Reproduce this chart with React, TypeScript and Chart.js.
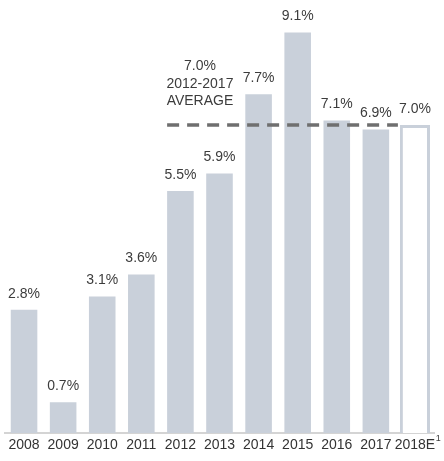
import React, { useEffect, useRef } from "react";
import { Chart, registerables } from "chart.js";
Chart.register(...registerables);

const categories = ["2008", "2009", "2010", "2011", "2012", "2013", "2014", "2015", "2016", "2017", "2018E"];
const growth = [2.8, 0.7, 3.1, 3.6, 5.5, 5.9, 7.7, 9.1, 7.1, 6.9, 7.0];
const isEstimate = [false, false, false, false, false, false, false, false, false, false, true];
const valueLabels = ["2.8%", "0.7%", "3.1%", "3.6%", "5.5%", "5.9%", "7.7%", "9.1%", "7.1%", "6.9%", "7.0%"];
const averageValue = 7.0;
const averageLines = ["7.0%", "2012-2017", "AVERAGE"];
const averageFrom = "2012";
const averageTo = "2018E";
const footnoteCategory = "2018E";
const footnoteMark = "1";

const FONT = "'Liberation Sans', Arial, sans-serif";
const BAR = "#c9d0da";
const TEXT = "#3c3c3c";

const overlay = {
  id: "overlay",
  afterDatasetsDraw(chart: any) {
    const ctx = chart.ctx;
    const x = chart.scales.x;
    const y = chart.scales.y;
    const actualMeta = chart.getDatasetMeta(0);
    const estMeta = chart.getDatasetMeta(1);
    const barOf = (i: number) => (isEstimate[i] ? estMeta.data[i] : actualMeta.data[i]);

    // dashed average line
    const iFrom = categories.indexOf(averageFrom);
    const iTo = categories.indexOf(averageTo);
    const bFrom: any = barOf(iFrom);
    const bTo: any = barOf(iTo);
    const yAvg = y.getPixelForValue(averageValue);
    ctx.save();
    ctx.strokeStyle = "#6f6f6f";
    ctx.lineWidth = 3.5;
    ctx.setLineDash([12, 8]);
    ctx.beginPath();
    ctx.moveTo(bFrom.x - bFrom.width / 2, yAvg);
    ctx.lineTo(bTo.x - bTo.width / 2 - 2, yAvg);
    ctx.stroke();
    ctx.setLineDash([]);

    // value labels
    ctx.fillStyle = TEXT;
    ctx.font = `14px ${FONT}`;
    ctx.textAlign = "center";
    ctx.textBaseline = "middle";
    growth.forEach((v, i) => {
      const b: any = barOf(i);
      ctx.fillText(valueLabels[i], b.x, y.getPixelForValue(v) - 16);
    });

    // average annotation
    const cx = (x.getPixelForValue(iFrom) + x.getPixelForValue(iFrom + 1)) / 2;
    const offsets = [-59, -41, -24];
    averageLines.forEach((t, k) => ctx.fillText(t, cx, yAvg + offsets[k]));

    // footnote mark on tick label
    const iF = categories.indexOf(footnoteCategory);
    ctx.font = `14px ${FONT}`;
    const w = ctx.measureText(footnoteCategory).width;
    ctx.font = `9px ${FONT}`;
    ctx.textAlign = "left";
    ctx.fillText(footnoteMark, x.getPixelForValue(iF) + w / 2 + 0.5, x.top + 6);
    ctx.restore();
  },
};

export default function App() {
  const ref = useRef<HTMLCanvasElement>(null);
  useEffect(() => {
    if (!ref.current) return;
    const chart = new Chart(ref.current, {
      type: "bar",
      data: {
        labels: categories,
        datasets: [
          {
            data: growth.map((v, i) => (isEstimate[i] ? null : v)),
            backgroundColor: BAR,
            borderWidth: 0,
            barPercentage: 0.68,
            categoryPercentage: 1,
            grouped: false,
          } as any,
          {
            data: growth.map((v, i) => (isEstimate[i] ? v : null)),
            backgroundColor: "#ffffff",
            borderColor: BAR,
            borderWidth: 3,
            borderSkipped: "bottom",
            barPercentage: 0.77,
            categoryPercentage: 1,
            grouped: false,
          } as any,
        ],
      },
      options: {
        animation: false,
        responsive: false,
        maintainAspectRatio: false,
        layout: { padding: { top: 10.6, left: 4.5, right: 9.5, bottom: 0 } },
        plugins: { legend: { display: false }, tooltip: { enabled: false } },
        scales: {
          x: {
            grid: { display: false, drawTicks: false },
            border: { display: true, color: "#d4d4d4", width: 2 },
            ticks: {
              color: "#333333",
              font: { family: FONT, size: 14 },
              padding: 4,
              maxRotation: 0,
              autoSkip: false,
            },
            afterFit: (s: any) => {
              s.height = 28;
            },
          },
          y: {
            display: false,
            min: 0,
            max: 9.6,
          },
        },
      },
      plugins: [overlay],
    });
    return () => chart.destroy();
  }, []);
  return (
    <div style={{ position: "fixed", left: 0, top: 0, width: 444, height: 461, background: "#fff" }}>
      <canvas ref={ref} width={444} height={461} style={{ display: "block" }} />
    </div>
  );
}
